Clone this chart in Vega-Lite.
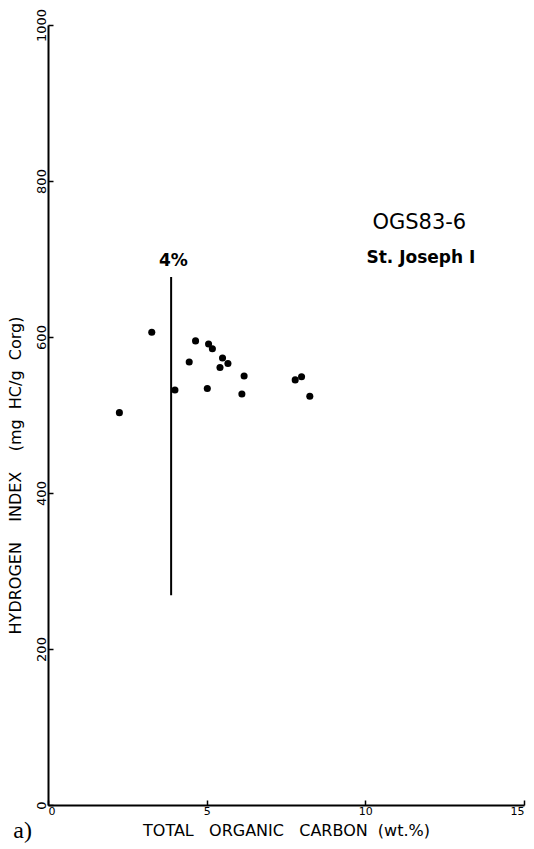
{
  "$schema": "https://vega.github.io/schema/vega-lite/v6.json",
  "width": 476,
  "height": 780,
  "autosize": {"type": "none"},
  "padding": {"left": 48, "top": 25, "right": 10, "bottom": 44},
  "background": "white",
  "config": {
    "view": {"stroke": null},
    "font": "DejaVu Sans",
    "axis": {"grid": false, "domainColor": "black", "domainWidth": 2, "tickColor": "black", "tickWidth": 1.5, "labelColor": "black", "titleColor": "black", "labelFont": "DejaVu Sans", "titleFont": "DejaVu Sans", "titleFontWeight": "normal"}
  },
  "datasets": {
    "points": [
      {"toc": 2.25, "hi": 503},
      {"toc": 3.27, "hi": 606},
      {"toc": 4.0, "hi": 532},
      {"toc": 4.45, "hi": 568},
      {"toc": 4.65, "hi": 595},
      {"toc": 5.06, "hi": 591},
      {"toc": 5.18, "hi": 585},
      {"toc": 5.02, "hi": 534},
      {"toc": 5.5, "hi": 573},
      {"toc": 5.42, "hi": 561},
      {"toc": 5.67, "hi": 566},
      {"toc": 6.18, "hi": 550},
      {"toc": 6.11, "hi": 527},
      {"toc": 7.79, "hi": 545},
      {"toc": 7.99, "hi": 549},
      {"toc": 8.25, "hi": 524}
    ],
    "cutoff": [{"toc": 3.88, "top": 677, "bottom": 269}],
    "labels": [
      {"toc": 3.95, "hi": 698, "text": "4%", "kind": "cut"},
      {"toc": 11.7, "hi": 746, "text": "OGS83-6", "kind": "well"},
      {"toc": 11.75, "hi": 701, "text": "St. Joseph I", "kind": "site"},
      {"toc": -0.8, "hi": -33, "text": "a)", "kind": "panel"}
    ]
  },
  "layer": [
    {
      "data": {"name": "cutoff"},
      "mark": {"type": "rule", "color": "black", "strokeWidth": 2},
      "encoding": {
        "x": {"field": "toc", "type": "quantitative", "scale": {"domain": [0, 15], "nice": false, "zero": false},
          "axis": {"values": [0, 5, 10, 15], "format": "d", "tickSize": -5, "labelPadding": 5, "labelFontSize": 11,
            "title": "TOTAL\u00a0\u00a0\u00a0ORGANIC\u00a0\u00a0\u00a0CARBON\u00a0\u00a0(wt.%)", "titleFontSize": 16, "titleBaseline": "middle", "titleAlign": "center", "titlePadding": 0, "titleY": 25}},
        "y": {"field": "top", "type": "quantitative", "scale": {"domain": [0, 1000], "nice": false},
          "axis": {"values": [0, 200, 400, 600, 800, 1000], "format": "d", "tickSize": -5, "labelPadding": 5, "labelFontSize": 13, "labelAngle": 270, "labelAlign": "center", "labelBaseline": "bottom",
            "title": "HYDROGEN\u00a0\u00a0\u00a0\u00a0INDEX\u00a0\u00a0\u00a0\u00a0(mg\u00a0\u00a0HC/g\u00a0\u00a0Corg)", "titleFontSize": 16, "titleAngle": 270, "titleAlign": "center", "titleBaseline": "middle", "titleX": -33, "titleY": 450}},
        "y2": {"field": "bottom"}
      }
    },
    {
      "data": {"name": "points"},
      "mark": {"type": "circle", "color": "black", "opacity": 1, "size": 50},
      "encoding": {
        "x": {"field": "toc", "type": "quantitative"},
        "y": {"field": "hi", "type": "quantitative"}
      }
    },
    {
      "data": {"name": "labels"},
      "transform": [{"filter": "datum.kind === 'cut'"}],
      "mark": {"type": "text", "fontSize": 17, "fontWeight": "bold", "color": "black", "align": "center", "baseline": "middle"},
      "encoding": {
        "x": {"field": "toc", "type": "quantitative"},
        "y": {"field": "hi", "type": "quantitative"},
        "text": {"field": "text"}
      }
    },
    {
      "data": {"name": "labels"},
      "transform": [{"filter": "datum.kind === 'well'"}],
      "mark": {"type": "text", "fontSize": 21, "color": "black", "align": "center", "baseline": "middle"},
      "encoding": {
        "x": {"field": "toc", "type": "quantitative"},
        "y": {"field": "hi", "type": "quantitative"},
        "text": {"field": "text"}
      }
    },
    {
      "data": {"name": "labels"},
      "transform": [{"filter": "datum.kind === 'site'"}],
      "mark": {"type": "text", "fontSize": 17, "fontWeight": "bold", "color": "black", "align": "center", "baseline": "middle"},
      "encoding": {
        "x": {"field": "toc", "type": "quantitative"},
        "y": {"field": "hi", "type": "quantitative"},
        "text": {"field": "text"}
      }
    },
    {
      "data": {"name": "labels"},
      "transform": [{"filter": "datum.kind === 'panel'"}],
      "mark": {"type": "text", "fontSize": 24, "font": "Liberation Serif", "color": "black", "align": "center", "baseline": "middle"},
      "encoding": {
        "x": {"field": "toc", "type": "quantitative"},
        "y": {"field": "hi", "type": "quantitative"},
        "text": {"field": "text"}
      }
    }
  ]
}
